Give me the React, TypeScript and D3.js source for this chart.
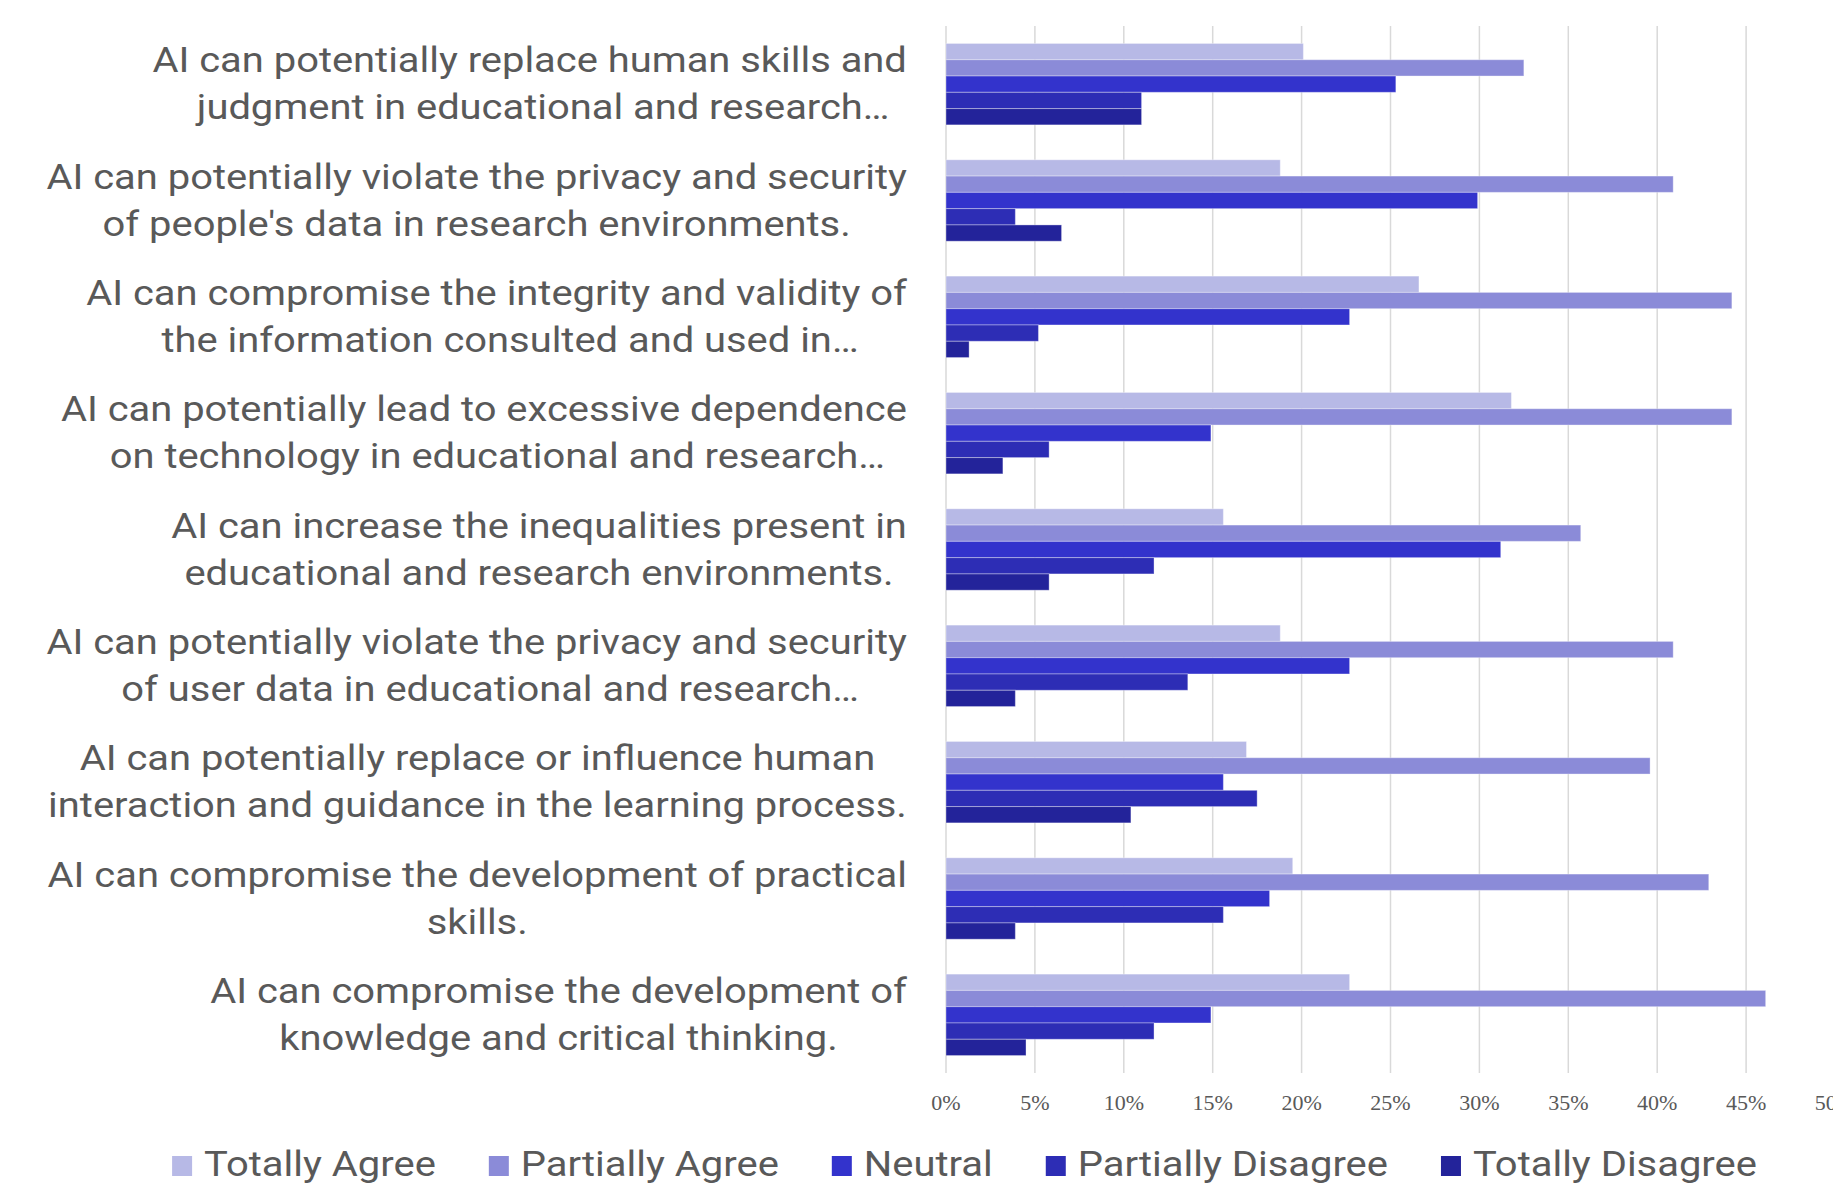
import React, { useRef, useEffect } from 'react';
import * as d3 from 'd3';

// statements, each split in the two lines shown on the chart
const statements: string[][] = [
  ['AI can potentially replace human skills and', 'judgment in educational and research…'],
  ['AI can potentially violate the privacy and security', "of people's data in research environments."],
  ['AI can compromise the integrity and validity of', 'the information consulted and used in…'],
  ['AI can potentially lead to excessive dependence', 'on technology in educational and research…'],
  ['AI can increase the inequalities present in', 'educational and research environments.'],
  ['AI can potentially violate the privacy and security', 'of user data in educational and research…'],
  ['AI can potentially replace or influence human', 'interaction and guidance in the learning process.'],
  ['AI can compromise the development of practical', 'skills.'],
  ['AI can compromise the development of', 'knowledge and critical thinking.'],
];

const seriesNames = ['Totally Agree', 'Partially Agree', 'Neutral', 'Partially Disagree', 'Totally Disagree'];
const seriesColors = ['#b7b9e6', '#8b8bd8', '#3333cc', '#2d2db5', '#23239a'];

// percentages, one value per statement
const totallyAgree = [20.1, 18.8, 26.6, 31.8, 15.6, 18.8, 16.9, 19.5, 22.7];
const partiallyAgree = [32.5, 40.9, 44.2, 44.2, 35.7, 40.9, 39.6, 42.9, 46.1];
const neutral = [25.3, 29.9, 22.7, 14.9, 31.2, 22.7, 15.6, 18.2, 14.9];
const partiallyDisagree = [11.0, 3.9, 5.2, 5.8, 11.7, 13.6, 17.5, 15.6, 11.7];
const totallyDisagree = [11.0, 6.5, 1.3, 3.2, 5.8, 3.9, 10.4, 3.9, 4.5];

const xTicks = [0, 5, 10, 15, 20, 25, 30, 35, 40, 45, 50];

const W = 1833;
const H = 1194;

const App: React.FC = () => {
  const svgRef = useRef<SVGSVGElement>(null);

  useEffect(() => {
    if (!svgRef.current) return;
    const svg = d3.select(svgRef.current);
    svg.selectAll('*').remove();

    const series = [totallyAgree, partiallyAgree, neutral, partiallyDisagree, totallyDisagree];
    const font = 'Roboto, "Noto Sans", sans-serif';
    const textColor = '#595959';
    // the source text is a little wider than Roboto
    const stretch = 1.14;

    const x = d3.scaleLinear().domain([0, 50]).range([946, 1835]);
    const y = d3.scaleBand<number>()
      .domain(d3.range(statements.length))
      .range([26, 1073])
      .paddingInner(0.3)
      .paddingOuter(0.15);
    const yInner = d3.scaleBand<number>()
      .domain(d3.range(seriesNames.length))
      .range([0, y.bandwidth()]);

    // grid lines
    svg.append('g')
      .selectAll('line')
      .data(xTicks)
      .join('line')
      .attr('x1', d => x(d))
      .attr('x2', d => x(d))
      .attr('y1', 26)
      .attr('y2', 1073)
      .attr('stroke', '#d9d9d9')
      .attr('stroke-width', 1.5);

    // bars
    const groups = svg.append('g')
      .selectAll('g')
      .data(statements.map((_, i) => i))
      .join('g')
      .attr('transform', i => `translate(0,${y(i)})`);

    groups.selectAll('rect')
      .data(i => series.map((s, k) => ({ k, v: s[i] })))
      .join('rect')
      .attr('x', x(0))
      .attr('y', d => yInner(d.k)!)
      .attr('width', d => x(d.v) - x(0))
      .attr('height', yInner.bandwidth())
      .attr('fill', d => seriesColors[d.k])
      .attr('stroke', 'rgba(255,255,255,0.35)')
      .attr('stroke-width', 1);

    // tick labels
    svg.append('g')
      .selectAll('text')
      .data(xTicks)
      .join('text')
      .attr('x', d => x(d))
      .attr('y', 1110)
      .attr('text-anchor', 'middle')
      .style('font-family', '"Liberation Serif", "Times New Roman", serif')
      .style('font-size', '22px')
      .style('fill', textColor)
      .text(d => `${d}%`);

    // category labels: lines centred within a block that is right aligned
    const labelRight = 907;
    statements.forEach((lines, i) => {
      const cy = y(i)! + y.bandwidth() / 2;
      const g = svg.append('g');
      const texts = lines.map((line, j) => {
        const lg = g.append('g');
        const t = lg.append('text')
          .attr('text-anchor', 'middle')
          .style('font-family', font)
          .style('font-size', '35px')
          .style('fill', textColor)
          .text(line);
        return { lg, t, yy: cy + (j === 0 ? -12 : 35), cut: line.endsWith('…') };
      });
      const widths = texts.map(d => (d.t.node() as SVGTextElement).getComputedTextLength() * stretch);
      const blockW = Math.max(...widths);
      const cx = labelRight - blockW / 2;
      // truncated lines sit a bit to the right in the source
      texts.forEach(d => d.lg.attr('transform', `translate(${cx + (d.cut ? 13.5 : 0)},${d.yy}) scale(${stretch},1)`));
    });

    // legend
    const legendStretch = 1.11;
    const legend = svg.append('g');
    const items = seriesNames.map((name, k) => {
      const it = legend.append('g');
      it.append('rect')
        .attr('width', 20)
        .attr('height', 20)
        .attr('y', -20)
        .attr('fill', seriesColors[k]);
      const t = it.append('text')
        .attr('transform', `translate(32,0) scale(${legendStretch},1)`)
        .style('font-family', font)
        .style('font-size', '36px')
        .style('fill', textColor)
        .text(name);
      const w = 32 + (t.node() as SVGTextElement).getComputedTextLength() * legendStretch;
      return { it, w };
    });
    const gap = 53;
    const total = d3.sum(items, d => d.w) + gap * (items.length - 1);
    let lx = 964.5 - total / 2;
    items.forEach(({ it, w }) => {
      it.attr('transform', `translate(${lx},1176)`);
      lx += w + gap;
    });
  }, []);

  return (
    <svg
      ref={svgRef}
      width={W}
      height={H}
      style={{ position: 'absolute', left: 0, top: 0, background: '#fff' }}
    />
  );
};

export default App;
